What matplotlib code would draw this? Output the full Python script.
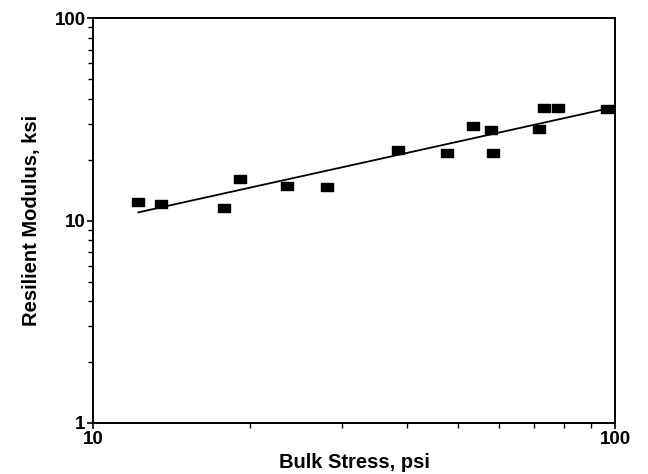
import numpy as np
import matplotlib.pyplot as plt
from matplotlib.path import Path
from matplotlib.ticker import LogLocator, FixedLocator, FixedFormatter, NullFormatter

# values (bulk stress, psi / resilient modulus, ksi)
bulk_stress = [12.2, 13.5, 17.8, 19.1, 23.5, 28.0, 38.3, 47.6, 53.4, 57.8, 58.3, 71.5, 73.1, 77.7, 96.5]
resilient_mod = [12.4, 12.1, 11.6, 16.1, 14.9, 14.7, 22.4, 21.6, 29.4, 28.1, 21.6, 28.4, 36.0, 36.0, 35.6]

# power-law fit  Mr = k1 * theta^k2
k1 = 2.64
k2 = 0.57

plt.rcParams['font.family'] = ['Liberation Sans', 'DejaVu Sans']
plt.rcParams['font.weight'] = 'bold'

# wide rectangle marker
rect = Path([(-1.6, -1), (1.6, -1), (1.6, 1), (-1.6, 1), (-1.6, -1)],
            [Path.MOVETO, Path.LINETO, Path.LINETO, Path.LINETO, Path.CLOSEPOLY])

fig = plt.figure(figsize=(6.48, 4.74), dpi=100)
ax = fig.add_axes([0.144, 0.1076, 0.805, 0.854])

fit_x = np.array([min(bulk_stress), max(bulk_stress)])
ax.plot(fit_x, k1 * fit_x ** k2, color='black', linewidth=1.3)
ax.plot(bulk_stress, resilient_mod, linestyle='none', marker=rect,
        markersize=9, color='black')

ax.set_xscale('log')
ax.set_yscale('log')
ax.set_xlim(10, 100)
ax.set_ylim(1, 100)

ax.xaxis.set_major_locator(FixedLocator([10, 100]))
ax.xaxis.set_major_formatter(FixedFormatter(['10', '100']))
ax.yaxis.set_major_locator(FixedLocator([1, 10, 100]))
ax.yaxis.set_major_formatter(FixedFormatter(['1', '10', '100']))
ax.xaxis.set_minor_locator(LogLocator(base=10, subs=np.arange(2, 10)))
ax.yaxis.set_minor_locator(LogLocator(base=10, subs=np.arange(2, 10)))
ax.xaxis.set_minor_formatter(NullFormatter())
ax.yaxis.set_minor_formatter(NullFormatter())

ax.tick_params(which='major', direction='out', length=4, width=1.2,
               labelsize=13.5, pad=1.5)
ax.tick_params(which='minor', direction='out', length=3.5, width=1.0)
ax.tick_params(top=False, right=False, which='both')

for s in ax.spines.values():
    s.set_linewidth(1.4)

ax.set_xlabel('Bulk Stress, psi', fontsize=14.5, fontweight='bold', labelpad=4)
ax.set_ylabel('Resilient Modulus, ksi', fontsize=14.5, fontweight='bold', labelpad=10)

fig.savefig('out.png', dpi=100)
